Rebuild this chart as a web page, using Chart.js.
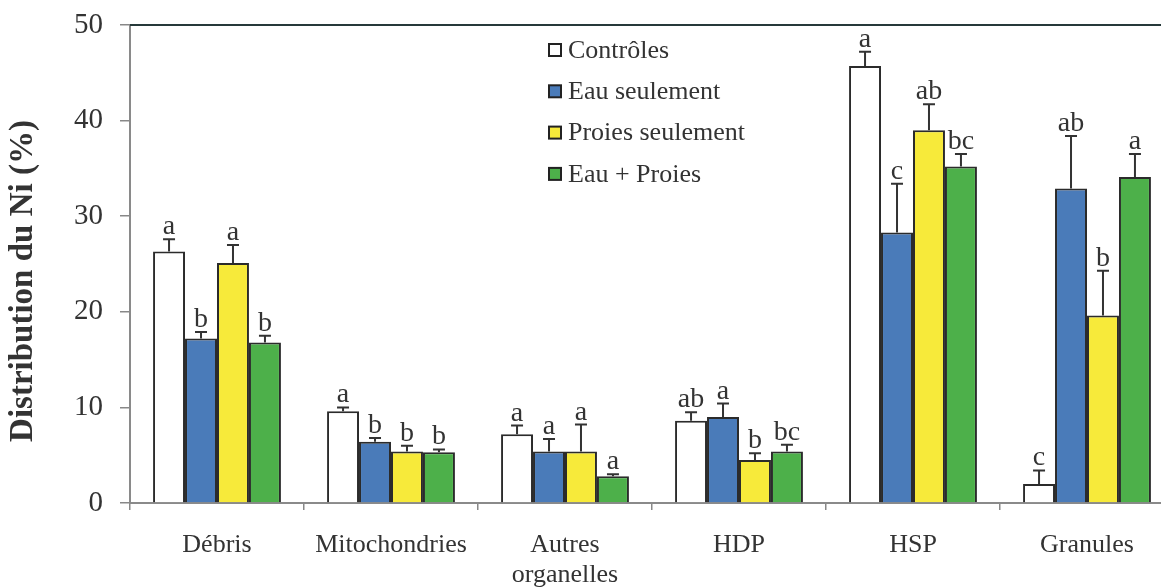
<!DOCTYPE html>
<html>
<head>
<meta charset="utf-8">
<script src="https://cdn.jsdelivr.net/npm/chart.js@4/dist/chart.umd.min.js"></script>
<style>
  html, body { margin: 0; padding: 0; background: #fff; overflow: hidden; }
  #wrap { width: 1180px; height: 588px; }
</style>
</head>
<body>
<div id="wrap"><canvas id="niChart" width="1180" height="588"></canvas></div>
<script>
// Données
const categories = ['Débris', 'Mitochondries', ['Autres', 'organelles'], 'HDP', 'HSP', 'Granules'];
const seriesNames = ['Contrôles', 'Eau seulement', 'Proies seulement', 'Eau + Proies'];

const controles = [26.3, 9.6, 7.2, 8.6, 45.7, 2.0];
const eauSeul = [17.2, 6.4, 5.4, 9.0, 28.3, 32.9];
const proiesSeul = [25.1, 5.4, 5.4, 4.5, 39.0, 19.6];
const eauProies = [16.8, 5.3, 2.8, 5.4, 35.2, 34.1];

// Erreurs (vers le haut seulement)
const errControles = [1.3, 0.4, 0.9, 0.9, 1.5, 1.4];
const errEauSeul = [0.7, 0.4, 1.3, 1.4, 5.1, 5.5];
const errProiesSeul = [1.9, 0.6, 2.8, 0.7, 2.7, 4.7];
const errEauProies = [0.7, 0.3, 0.2, 0.7, 1.3, 2.4];

// Lettres des tests statistiques
const lettresControles = ['a', 'a', 'a', 'ab', 'a', 'c'];
const lettresEauSeul = ['b', 'b', 'a', 'a', 'c', 'ab'];
const lettresProiesSeul = ['a', 'b', 'a', 'b', 'ab', 'b'];
const lettresEauProies = ['b', 'b', 'a', 'bc', 'bc', 'a'];

const yTicks = [0, 10, 20, 30, 40, 50];
const yTitle = 'Distribution du Ni (%)';

const colors = ['#ffffff', '#4a7bb9', '#f7ea3a', '#4db04a'];
const serif = '"Liberation Serif", "Times New Roman", serif';
const ink = '#333333';

const valeurs = [controles, eauSeul, proiesSeul, eauProies];
const erreurs = [errControles, errEauSeul, errProiesSeul, errEauProies];
const lettres = [lettresControles, lettresEauSeul, lettresProiesSeul, lettresEauProies];

// Barres d'erreur + lettres
const errorBarsPlugin = {
  id: 'errorBars',
  afterDatasetsDraw(chart) {
    const ctx = chart.ctx;
    const y = chart.scales.y;
    ctx.save();
    chart.data.datasets.forEach((ds, i) => {
      const meta = chart.getDatasetMeta(i);
      meta.data.forEach((bar, j) => {
        const top = y.getPixelForValue(ds.data[j] + ds.errors[j]);
        ctx.strokeStyle = ink;
        ctx.lineWidth = 2;
        ctx.beginPath();
        ctx.moveTo(bar.x, bar.y);
        ctx.lineTo(bar.x, top);
        ctx.moveTo(bar.x - 6, top);
        ctx.lineTo(bar.x + 6, top);
        ctx.stroke();
        ctx.fillStyle = ink;
        ctx.font = '28px ' + serif;
        ctx.textAlign = 'center';
        ctx.textBaseline = 'alphabetic';
        ctx.fillText(ds.letters[j], bar.x, top - 5);
      });
    });
    ctx.restore();
  }
};

// Ligne du haut, légende, titre de l'axe
const framePlugin = {
  id: 'frame',
  afterDraw(chart) {
    const ctx = chart.ctx;
    const area = chart.chartArea;
    ctx.save();
    ctx.strokeStyle = '#26393a';
    ctx.lineWidth = 2;
    ctx.beginPath();
    ctx.moveTo(area.left, area.top);
    ctx.lineTo(chart.width, area.top);
    ctx.stroke();

    // légende
    ctx.font = '26px ' + serif;
    ctx.textAlign = 'left';
    ctx.textBaseline = 'middle';
    chart.data.datasets.forEach((ds, i) => {
      const cy = 50 + i * 41.3;
      ctx.fillStyle = ds.backgroundColor;
      ctx.fillRect(549, cy - 6, 12, 12);
      ctx.strokeStyle = '#222';
      ctx.lineWidth = 2;
      ctx.strokeRect(549, cy - 6, 12, 12);
      ctx.fillStyle = ink;
      ctx.fillText(ds.label, 568, cy + 1);
    });

    // titre Y
    ctx.translate(23, 281);
    ctx.rotate(-Math.PI / 2);
    ctx.font = 'bold 33px ' + serif;
    ctx.textAlign = 'center';
    ctx.fillStyle = ink;
    ctx.fillText(yTitle, 0, 0);
    ctx.restore();
  }
};

const ctx = document.getElementById('niChart').getContext('2d');
new Chart(ctx, {
  type: 'bar',
  data: {
    labels: categories,
    datasets: seriesNames.map((name, i) => ({
      label: name,
      data: valeurs[i],
      errors: erreurs[i],
      letters: lettres[i],
      backgroundColor: colors[i],
      borderColor: '#2b2b2b',
      borderWidth: 2,
      barPercentage: 1.0,
      categoryPercentage: 0.735
    }))
  },
  options: {
    responsive: false,
    animation: false,
    layout: { padding: { top: 25, right: 6, left: 0, bottom: 0 } },
    plugins: {
      legend: { display: false },
      tooltip: { enabled: false }
    },
    scales: {
      x: {
        grid: {
          display: true,
          drawOnChartArea: false,
          drawTicks: true,
          tickLength: 7,
          color: '#888',
          lineWidth: 1.5
        },
        border: { display: true, color: '#8a8a8a', width: 2 },
        ticks: {
          color: ink,
          font: { family: serif, size: 26, lineHeight: 1.15 },
          padding: 20,
          maxRotation: 0
        },
        afterFit(scale) { scale.height = 85; }
      },
      y: {
        min: 0,
        max: 50,
        afterBuildTicks(scale) { scale.ticks = yTicks.map(v => ({ value: v })); },
        grid: {
          display: true,
          drawOnChartArea: false,
          drawTicks: true,
          tickLength: 10,
          color: '#888',
          lineWidth: 1.5
        },
        border: { display: true, color: '#8a8a8a', width: 2 },
        ticks: {
          color: ink,
          font: { family: serif, size: 29 },
          padding: 17
        },
        afterFit(scale) {
          scale.width = 130;
          scale.paddingTop = 0;
          scale.paddingBottom = 0;
        }
      }
    }
  },
  plugins: [errorBarsPlugin, framePlugin]
});
</script>
</body>
</html>
